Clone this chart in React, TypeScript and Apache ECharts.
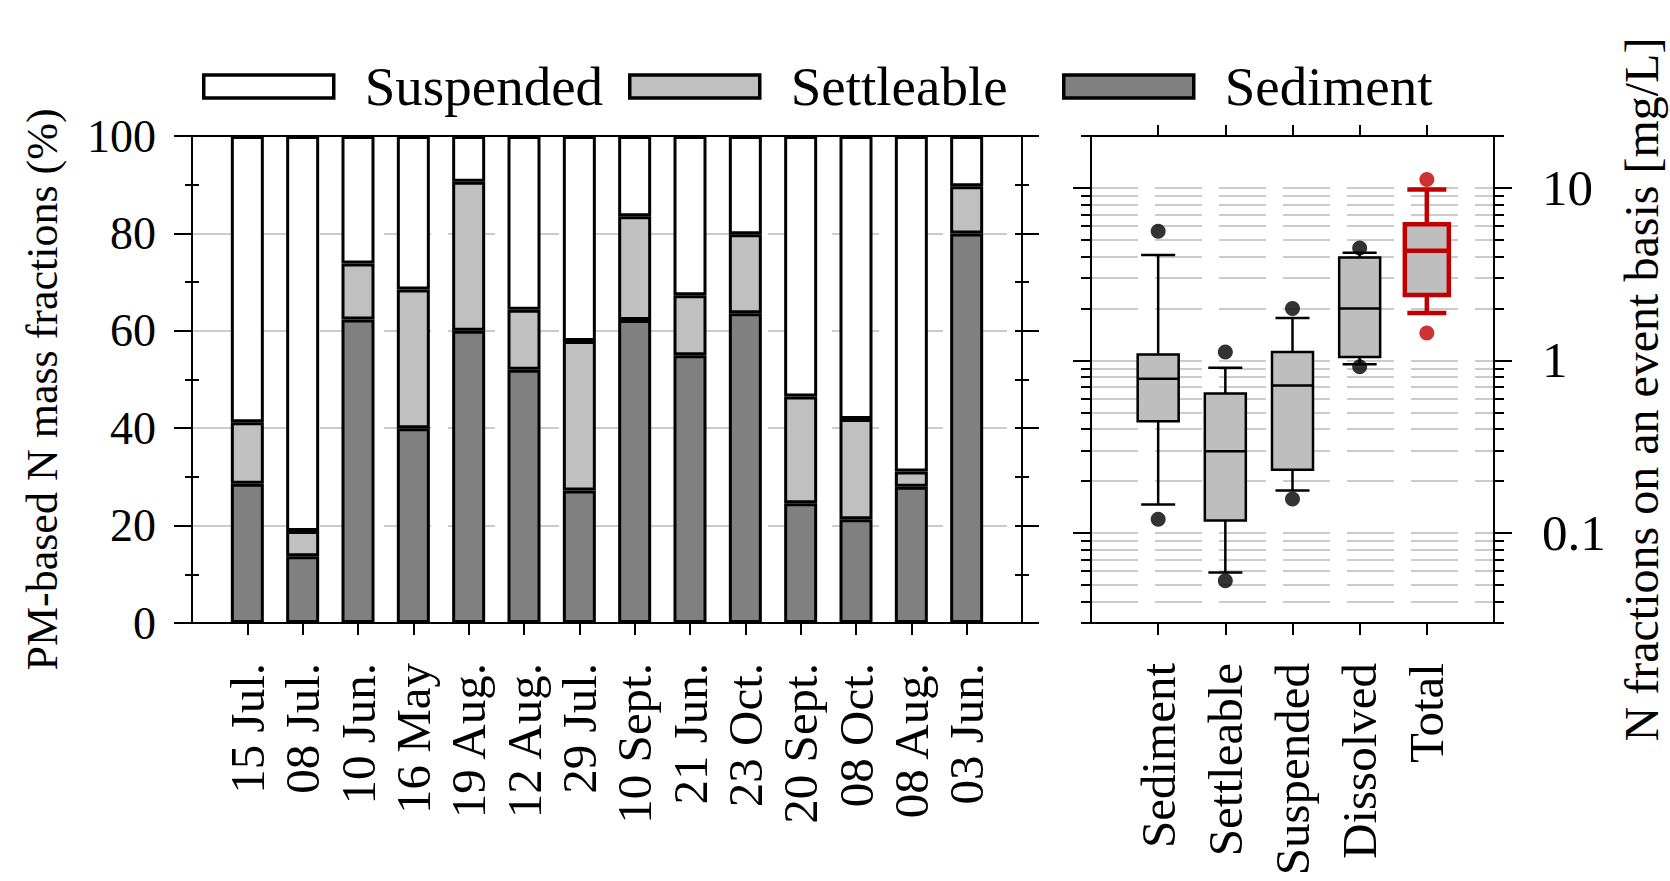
import React, { useEffect, useRef } from "react";
import * as echarts from "echarts";

// ---- left panel: PM-based N mass fractions per event (%) ----
const dates = [
  "15 Jul.", "08 Jul.", "10 Jun.", "16 May", "19 Aug.", "12 Aug.", "29 Jul.",
  "10 Sept.", "21 Jun.", "23 Oct.", "20 Sept.", "08 Oct.", "08 Aug.", "03 Jun.",
];
const sediment = [28.6, 13.7, 62.3, 40.0, 60.0, 52.0, 27.2, 62.2, 55.0, 63.6, 24.6, 21.3, 28.0, 80.0];
const settleable = [12.6, 5.2, 11.5, 28.5, 30.6, 12.3, 30.7, 21.3, 12.3, 16.2, 21.9, 20.6, 3.1, 9.7];
const suspended = [58.8, 81.1, 26.2, 31.5, 9.4, 35.7, 42.1, 16.5, 32.7, 20.2, 53.5, 58.1, 68.9, 10.3];

// ---- right panel: N fractions on an event basis (mg/L), log scale ----
const boxCategories = ["Sediment", "Settleable", "Suspended", "Dissolved", "Total"];
// [lower whisker, Q1, median, Q3, upper whisker]
const boxStats = [
  [0.146, 0.444, 0.782, 1.08, 4.08],
  [0.0588, 0.118, 0.297, 0.643, 0.906],
  [0.176, 0.232, 0.716, 1.118, 1.76],
  [0.948, 1.046, 2.0, 3.95, 4.21],
  [1.88, 2.39, 4.32, 6.15, 9.78],
];
// [low outlier, high outlier]
const outliers = [
  [0.12, 5.6],
  [0.0528, 1.12],
  [0.157, 2.0],
  [0.918, 4.48],
  [1.44, 11.2],
];
const logLabelTicks = [0.1, 1, 10];
const logGridTicks = [
  0.04, 0.05, 0.06, 0.07, 0.08, 0.09,
  0.1, 0.2, 0.3, 0.4, 0.5, 0.6, 0.7, 0.8, 0.9,
  1, 2, 3, 4, 5, 6, 7, 8, 9,
  10,
];

const FONT = "'Liberation Serif', 'Times New Roman', serif";
const G0 = { left: 192, top: 136, width: 830, height: 487 };
const G1 = { left: 1091, top: 136, width: 403, height: 487 };
const BLACK = "#000";
const RED = "#c00000";
const GRID_LINE = { color: "#bcbcbc", width: 1.6, type: [47, 17] as number[] };

const pad = (arr: (number | string)[]) => ["", ...arr, ""];
const innerTick = (n: number) => (i: number) => i > 0 && i < n - 1;

function boxRenderer(halfBox: number, halfCap: number, stroke: string, lineWidth: number) {
  return (_params: any, api: any) => {
    const x = api.value(0);
    const pts = [1, 2, 3, 4, 5].map((d) => api.coord([x, api.value(d)]));
    const cx = pts[0][0];
    const [lo, q1, med, q3, hi] = pts.map((p: number[]) => p[1]);
    const line = (x1: number, y1: number, x2: number, y2: number) => ({
      type: "line",
      shape: { x1, y1, x2, y2 },
      style: { stroke, lineWidth },
    });
    return {
      type: "group",
      children: [
        line(cx, hi, cx, q3),
        line(cx, q1, cx, lo),
        line(cx - halfCap, hi, cx + halfCap, hi),
        line(cx - halfCap, lo, cx + halfCap, lo),
        {
          type: "rect",
          shape: { x: cx - halfBox, y: q3, width: 2 * halfBox, height: q1 - q3 },
          style: { fill: "#bebebe", stroke, lineWidth },
        },
        line(cx - halfBox, med, cx + halfBox, med),
      ],
    };
  };
}

function buildOption() {
  const nDates = dates.length + 2;
  const nBox = boxCategories.length + 2;
  const axisLine = { show: true, lineStyle: { color: BLACK, width: 2 } };
  const tickStyle = { color: BLACK, width: 2 };

  const catLabel = {
    rotate: 90,
    fontSize: 49,
    fontFamily: FONT,
    color: BLACK,
    margin: 40,
    interval: 0,
  };

  const legendCommon = {
    itemWidth: 130,
    itemHeight: 23,
    icon: "rect",
    padding: 0,
    top: 59,
    selectedMode: false,
    textStyle: { fontSize: 55, fontFamily: FONT, color: BLACK, padding: [0, 0, 0, 26] },
  };

  const logBase = { type: "log", logBase: 10, min: 0.03, max: 20, gridIndex: 1 };

  return {
    animation: false,
    backgroundColor: "#fff",
    textStyle: { fontFamily: FONT },
    legend: [
      { ...legendCommon, left: 202, data: [{ name: "Suspended", itemStyle: { color: "#fff", borderColor: BLACK, borderWidth: 3.5 } }] },
      { ...legendCommon, left: 628, data: [{ name: "Settleable", itemStyle: { color: "#c0c0c0", borderColor: BLACK, borderWidth: 3.5 } }] },
      { ...legendCommon, left: 1062, data: [{ name: "Sediment", itemStyle: { color: "#808080", borderColor: BLACK, borderWidth: 3.5 } }] },
    ],
    grid: [
      { ...G0, containLabel: false },
      { ...G1, containLabel: false },
    ],
    xAxis: [
      {
        type: "category", gridIndex: 0, position: "bottom", data: pad(dates), boundaryGap: false,
        axisLine, axisTick: { show: true, length: 12, interval: innerTick(nDates), lineStyle: tickStyle },
        axisLabel: catLabel, splitLine: { show: false },
      },
      {
        type: "category", gridIndex: 0, position: "top", data: pad(dates), boundaryGap: false,
        axisLine, axisTick: { show: true, length: 11, interval: innerTick(nDates), lineStyle: tickStyle },
        axisLabel: { show: false }, splitLine: { show: false },
      },
      {
        type: "category", gridIndex: 1, position: "bottom", data: pad(boxCategories), boundaryGap: false,
        axisLine, axisTick: { show: true, length: 12, interval: innerTick(nBox), lineStyle: tickStyle },
        axisLabel: catLabel, splitLine: { show: false },
      },
      {
        type: "category", gridIndex: 1, position: "top", data: pad(boxCategories), boundaryGap: false,
        axisLine, axisTick: { show: true, length: 11, interval: innerTick(nBox), lineStyle: tickStyle },
        axisLabel: { show: false }, splitLine: { show: false },
      },
    ],
    yAxis: [
      {
        type: "value", gridIndex: 0, position: "left", min: 0, max: 100, interval: 20,
        axisLine, axisTick: { show: true, length: 18, lineStyle: tickStyle },
        minorTick: { show: true, splitNumber: 2, length: 7, lineStyle: tickStyle },
        axisLabel: { fontSize: 46, fontFamily: FONT, color: BLACK, margin: 36 },
        splitLine: { show: true, lineStyle: GRID_LINE },
        name: "PM-based N mass fractions (%)", nameLocation: "middle", nameGap: 128,
        nameTextStyle: { fontSize: 44, fontFamily: FONT, color: BLACK, padding: [0, 20, 0, 0] },
      },
      {
        type: "value", gridIndex: 0, position: "right", min: 0, max: 100, interval: 20,
        axisLine, axisTick: { show: true, length: 17, lineStyle: tickStyle },
        minorTick: { show: true, splitNumber: 2, length: 7, lineStyle: tickStyle },
        axisLabel: { show: false }, splitLine: { show: false },
      },
      {
        type: "value", gridIndex: 0, position: "left", min: 0, max: 100, interval: 20,
        axisLine: { show: false }, axisTick: { show: false, inside: true },
        minorTick: { show: true, splitNumber: 2, length: 7, lineStyle: tickStyle },
        axisLabel: { show: false }, splitLine: { show: false },
      },
      {
        type: "value", gridIndex: 0, position: "right", min: 0, max: 100, interval: 20,
        axisLine: { show: false }, axisTick: { show: true, inside: true, length: 7, lineStyle: tickStyle },
        minorTick: { show: true, splitNumber: 2, length: 7, lineStyle: tickStyle },
        axisLabel: { show: false }, splitLine: { show: false },
      },
      {
        ...logBase, position: "left",
        axisLine, axisTick: { show: true, length: 18, customValues: logLabelTicks, lineStyle: tickStyle },
        axisLabel: { show: false }, splitLine: { show: false }, minorTick: { show: false },
      },
      {
        ...logBase, position: "right",
        axisLine, axisTick: { show: true, length: 18, customValues: logLabelTicks, lineStyle: tickStyle },
        axisLabel: {
          show: true, customValues: logLabelTicks, formatter: (v: number) => `${v}`,
          fontSize: 51, fontFamily: FONT, color: BLACK, margin: 48,
        },
        splitLine: { show: false }, minorTick: { show: false },
        name: "N fractions on an event basis [mg/L]", nameLocation: "middle", nameRotate: 90, nameGap: 123,
        nameTextStyle: { fontSize: 48, fontFamily: FONT, color: BLACK, padding: [0, 20, 0, 0] },
      },
      {
        ...logBase, position: "left",
        axisLine: { show: false }, axisTick: { show: true, length: 10, customValues: logGridTicks, lineStyle: tickStyle },
        axisLabel: { show: false }, splitLine: { show: true, lineStyle: GRID_LINE }, minorTick: { show: false },
      },
      {
        ...logBase, position: "right",
        axisLine: { show: false }, axisTick: { show: true, length: 10, customValues: logGridTicks, lineStyle: tickStyle },
        axisLabel: { show: false }, splitLine: { show: false }, minorTick: { show: false },
      },
    ],
    graphic: [
      { type: "line", z: 10, shape: { x1: G0.left - 18, y1: G0.top, x2: G0.left + G0.width + 17, y2: G0.top }, style: { stroke: BLACK, lineWidth: 2 } },
      { type: "line", z: 10, shape: { x1: G0.left - 18, y1: G0.top + G0.height, x2: G0.left + G0.width + 17, y2: G0.top + G0.height }, style: { stroke: BLACK, lineWidth: 2 } },
      { type: "line", z: 10, shape: { x1: G1.left - 10, y1: G1.top, x2: G1.left + G1.width + 10, y2: G1.top }, style: { stroke: BLACK, lineWidth: 2 } },
      { type: "line", z: 10, shape: { x1: G1.left - 10, y1: G1.top + G1.height, x2: G1.left + G1.width + 10, y2: G1.top + G1.height }, style: { stroke: BLACK, lineWidth: 2 } },
    ],
    series: [
      {
        name: "Sediment", type: "bar", stack: "pm", xAxisIndex: 0, yAxisIndex: 0, barWidth: 33,
        data: [null, ...sediment, null],
        itemStyle: { color: "#808080", borderColor: BLACK, borderWidth: 3 },
      },
      {
        name: "Settleable", type: "bar", stack: "pm", xAxisIndex: 0, yAxisIndex: 0, barWidth: 33,
        data: [null, ...settleable, null],
        itemStyle: { color: "#c0c0c0", borderColor: BLACK, borderWidth: 3 },
      },
      {
        name: "Suspended", type: "bar", stack: "pm", xAxisIndex: 0, yAxisIndex: 0, barWidth: 33,
        data: [null, ...suspended, null],
        itemStyle: { color: "#ffffff", borderColor: BLACK, borderWidth: 3 },
      },
      {
        name: "N fractions", type: "custom", xAxisIndex: 2, yAxisIndex: 4, z: 3,
        encode: { x: 0, y: [1, 2, 3, 4, 5] },
        renderItem: boxRenderer(20.5, 17, BLACK, 2.5),
        data: boxStats.slice(0, 4).map((s, i) => [i + 1, ...s]),
      },
      {
        name: "Total N", type: "custom", xAxisIndex: 2, yAxisIndex: 4, z: 3,
        encode: { x: 0, y: [1, 2, 3, 4, 5] },
        renderItem: boxRenderer(22, 19.5, RED, 4.5),
        data: [[5, ...boxStats[4]]],
      },
      {
        name: "Outliers", type: "scatter", xAxisIndex: 2, yAxisIndex: 4, z: 4,
        symbol: "circle", symbolSize: 15, itemStyle: { color: BLACK },
        data: outliers.slice(0, 4).flatMap((o, i) => o.map((v) => [i + 1, v])),
      },
      {
        name: "Total outliers", type: "scatter", xAxisIndex: 2, yAxisIndex: 4, z: 4,
        symbol: "circle", symbolSize: 15, itemStyle: { color: RED },
        data: outliers[4].map((v) => [5, v]),
      },
    ],
  };
}

export default function App() {
  const ref = useRef<HTMLDivElement>(null);
  useEffect(() => {
    if (!ref.current) return;
    const chart = echarts.init(ref.current, undefined, { renderer: "svg" });
    chart.setOption(buildOption() as any);
    return () => chart.dispose();
  }, []);
  return (
    <div
      ref={ref}
      style={{ position: "absolute", left: 0, top: 0, width: 1670, height: 881, background: "#fff" }}
    />
  );
}
